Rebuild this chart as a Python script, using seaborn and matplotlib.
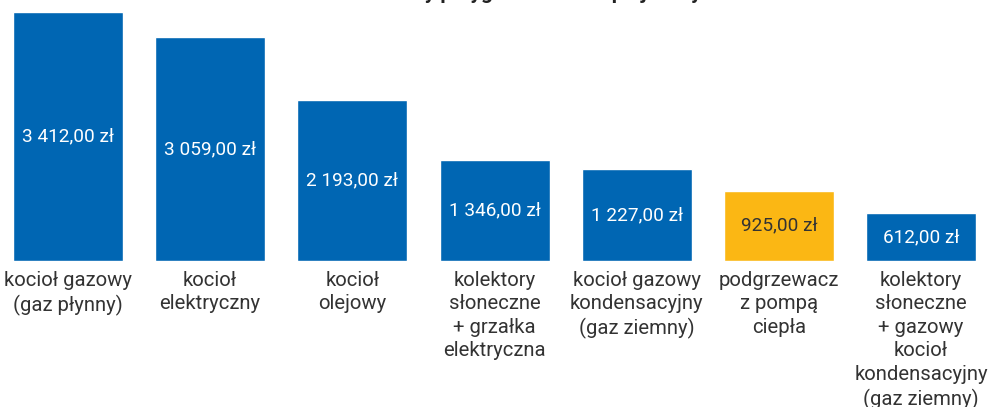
import matplotlib
matplotlib.use("Agg")
import matplotlib.pyplot as plt
import seaborn as sns

# ---- data ----
categories = [
    "kocioł gazowy\n(gaz płynny)",
    "kocioł\nelektryczny",
    "kocioł\nolejowy",
    "kolektory\nsłoneczne\n+ grzałka\nelektryczna",
    "kocioł gazowy\nkondensacyjny\n(gaz ziemny)",
    "podgrzewacz\nz pompą\nciepła",
    "kolektory\nsłoneczne\n+ gazowy\nkocioł\nkondensacyjny\n(gaz ziemny)",
]
values = [3412, 3059, 2193, 1346, 1227, 925, 612]
highlight = [False, False, False, False, False, True, False]
title = "Roczne koszty przygotowania ciepłej wody"

BLUE = "#0066B3"
YELLOW = "#FBB714"
TEXT = "#333333"
BASELINE = -56  # bars in the original extend a little below zero


def fmt(v):
    return f"{v:,.2f}".replace(",", " ").replace(".", ",") + " zł"


sns.set_theme(style="white")
plt.rcParams["font.family"] = ["Roboto", "DejaVu Sans"]

fig = plt.figure(figsize=(9.9, 4.07), dpi=100)
ax = fig.add_axes([0, 146 / 407, 1, 261 / 407])

palette = {c: (YELLOW if h else BLUE) for c, h in zip(categories, highlight)}
sns.barplot(x=categories, y=values, hue=categories, palette=palette,
            legend=False, width=0.774, saturation=1, ax=ax)

for p in ax.patches:
    h = p.get_height()
    p.set_y(BASELINE)
    p.set_height(h - BASELINE)

for i, (v, h) in enumerate(zip(values, highlight)):
    ax.text(i, (v + BASELINE) / 2, fmt(v), ha="center", va="center",
            color=(TEXT if h else "white"), fontsize=13.7)

ax.set_xlim(-0.478, 6.484)
ax.set_ylim(BASELINE, 3579)
ax.set_xticks(range(len(categories)))
ax.set_xticklabels(categories, fontsize=14.6, color=TEXT, linespacing=1.3)
ax.tick_params(axis="x", length=0, pad=7)
ax.set_yticks([])
ax.set_xlabel("")
ax.set_ylabel("")
for s in ax.spines.values():
    s.set_visible(False)

fig.text(0.505, 1 + 1 / 407, title, ha="center", va="baseline",
         fontsize=15, fontweight="bold", color="#222222")

fig.savefig("out.png", dpi=100)
